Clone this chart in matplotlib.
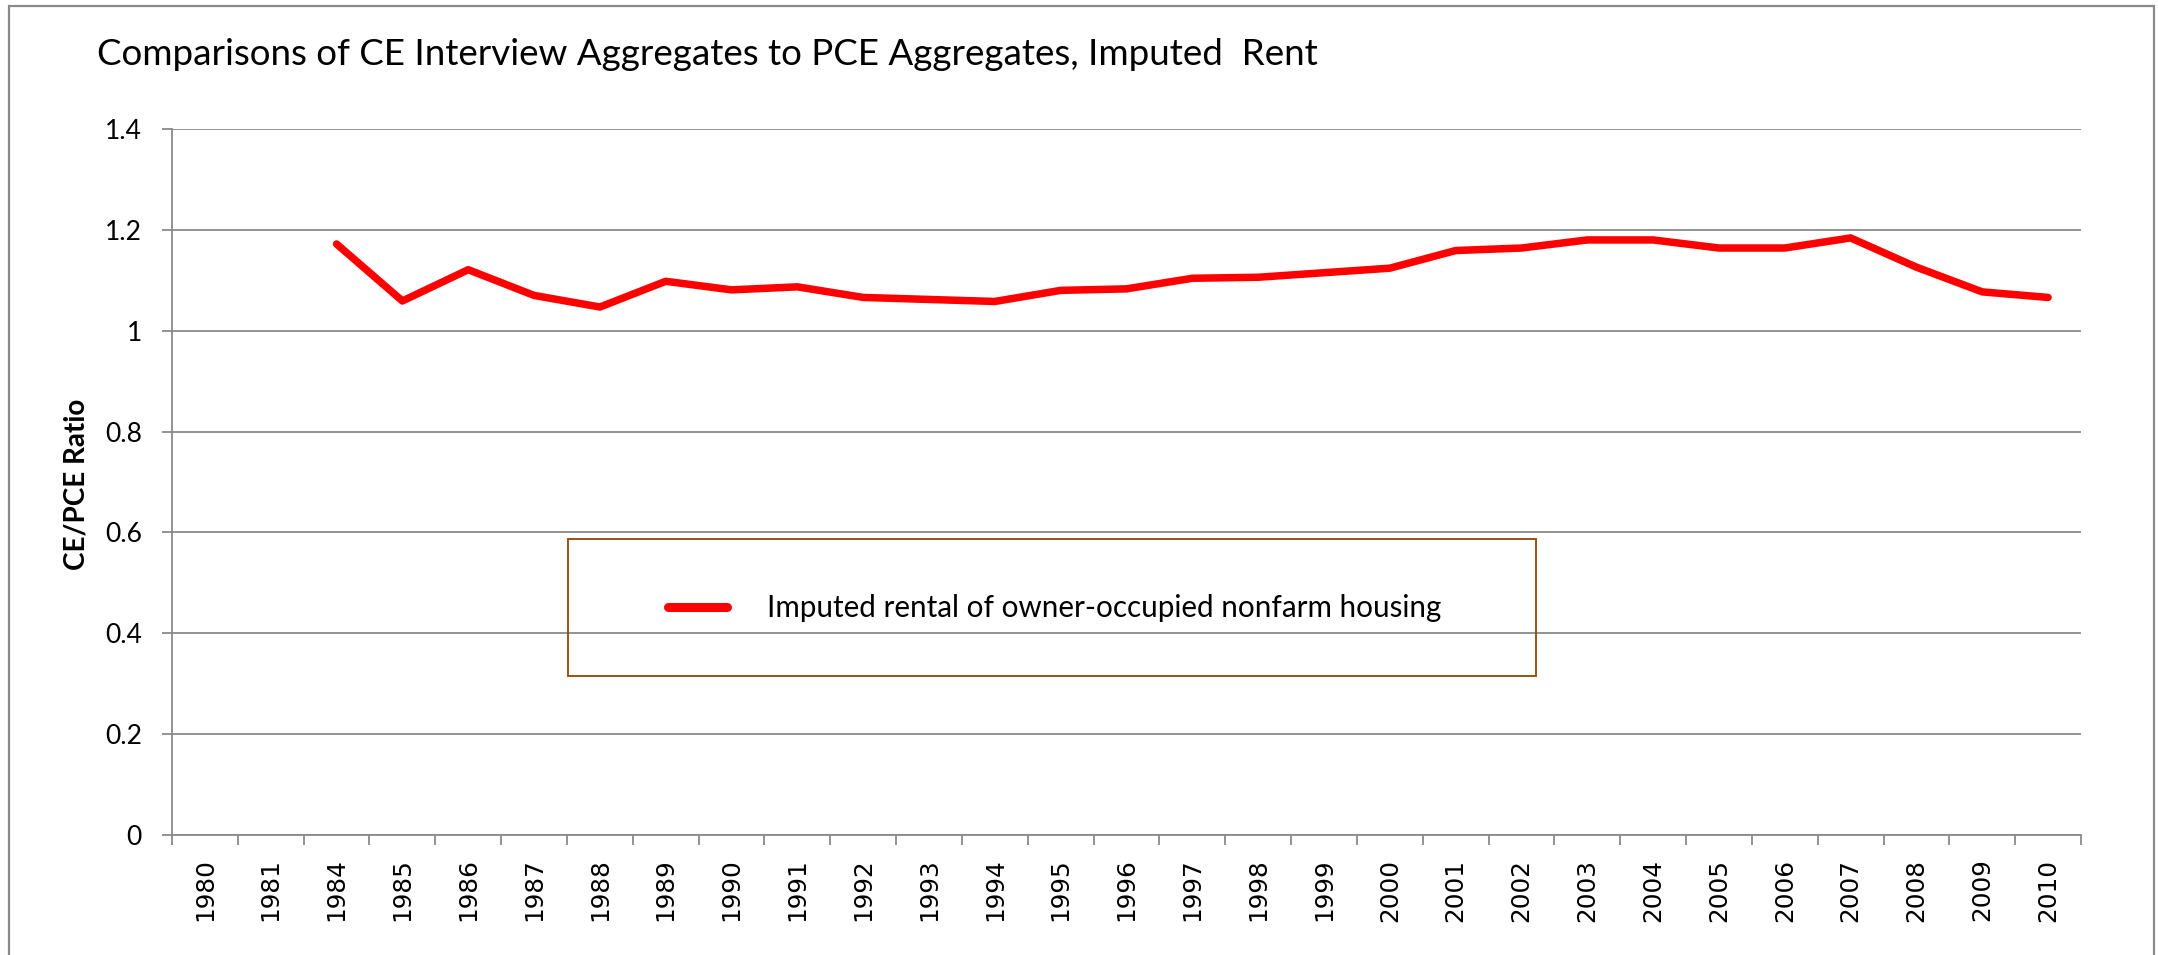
import numpy as np
import matplotlib
matplotlib.use("Agg")
import matplotlib.pyplot as plt
from matplotlib.patches import Rectangle

# ---------------- data ----------------
years = ["1980", "1981", "1984", "1985", "1986", "1987", "1988", "1989", "1990",
         "1991", "1992", "1993", "1994", "1995", "1996", "1997", "1998", "1999",
         "2000", "2001", "2002", "2003", "2004", "2005", "2006", "2007", "2008",
         "2009", "2010"]
ratio = [np.nan, np.nan, 1.172, 1.059, 1.121, 1.070, 1.047, 1.098, 1.081,
         1.087, 1.066, 1.062, 1.058, 1.080, 1.083, 1.104, 1.106, 1.115,
         1.124, 1.159, 1.164, 1.180, 1.180, 1.164, 1.164, 1.184, 1.126,
         1.077, 1.066]
series_label = "Imputed rental of owner-occupied nonfarm housing"
title = "Comparisons of CE Interview Aggregates to PCE Aggregates, Imputed  Rent"
ylabel = "CE/PCE Ratio"
yticks = [0, 0.2, 0.4, 0.6, 0.8, 1.0, 1.2, 1.4]
yticklabels = ["0", "0.2", "0.4", "0.6", "0.8", "1", "1.2", "1.4"]

# ---------------- style ----------------
W, H, DPI = 2158, 955, 100
GRAY = "#8a8a8a"
RED = "#ff0000"
BROWN = "#9a5217"
SANS = ["Lato", "DejaVu Sans"]

fig = plt.figure(figsize=(W / DPI, H / DPI), dpi=DPI)
fig.patch.set_facecolor("white")
renderer = fig.canvas.get_renderer()


def fit_size(s, target_px, family, weight="normal", base=20.0):
    t = fig.text(0, 0, s, fontsize=base, family=family, weight=weight)
    w = t.get_window_extent(renderer=renderer).width
    t.remove()
    return base * target_px / w


title_fs = fit_size(title, 1224, SANS)
legend_fs = fit_size(series_label, 674, SANS)
ytick_fs = fit_size("1.4", 37, SANS)
ylabel_fs = fit_size(ylabel, 172, SANS, weight="bold")
xtick_fs = fit_size("1980", 63, ["DejaVu Sans"])

# axes placement (pixels in the full-size reference)
L, R, T, B = 172, 2081, 129, 835
ax = fig.add_axes([L / W, 1 - B / H, (R - L) / W, (B - T) / H])

x = np.arange(len(years))
ax.plot(x, ratio, color=RED, lw=5.4, solid_capstyle="round",
        solid_joinstyle="round", label=series_label, zorder=3)

ax.set_xlim(-0.5, len(years) - 0.5)
ax.set_ylim(0, 1.4)
ax.set_yticks(yticks)
ax.set_yticklabels(yticklabels, family=SANS, fontsize=ytick_fs)
ax.set_xticks(x)
ax.set_xticklabels(years, rotation=90, family="DejaVu Sans", fontsize=xtick_fs)
ax.set_xticks(np.arange(len(years) + 1) - 0.5, minor=True)
ax.tick_params(axis="x", which="major", length=0, pad=17)
ax.tick_params(axis="x", which="minor", length=7.2, width=1.3, color=GRAY,
               direction="out")
ax.tick_params(axis="y", length=7.2, width=1.3, color=GRAY, pad=14.5)

ax.grid(axis="y", color=GRAY, lw=1.3)
ax.set_axisbelow(True)
for side in ("top", "right"):
    ax.spines[side].set_visible(False)
for side in ("left", "bottom"):
    ax.spines[side].set_color(GRAY)
    ax.spines[side].set_linewidth(1.3)

# title and y label
fig.text(97 / W, 1 - 65 / H, title, family=SANS, fontsize=title_fs,
         ha="left", va="baseline")
fig.text(76 / W, 1 - 484 / H, ylabel, family=SANS, fontsize=ylabel_fs,
         weight="bold", rotation=90, ha="center", va="center")

# legend
fs_px = legend_fs * DPI / 72.0
leg = ax.legend(loc="center left", bbox_to_anchor=(668 / W, 1 - 608 / H),
                bbox_transform=fig.transFigure, frameon=False,
                prop={"family": SANS, "size": legend_fs},
                borderpad=0, borderaxespad=0,
                handlelength=59 / fs_px, handletextpad=40 / fs_px)
for h in leg.legend_handles:
    h.set_linewidth(6.5)
    h.set_solid_capstyle("round")

fig.add_artist(Rectangle((568 / W, 1 - 676 / H), (1536 - 568) / W, (676 - 539) / H,
                         transform=fig.transFigure, fill=False, ec=BROWN, lw=1.4))

# outer chart border
fig.add_artist(Rectangle((9 / W, -0.05), (2154 - 9) / W, (1 - 6 / H) + 0.05,
                         transform=fig.transFigure, fill=False, ec=GRAY, lw=1.6,
                         clip_on=False))

fig.savefig("out.png", dpi=DPI, facecolor="white")
